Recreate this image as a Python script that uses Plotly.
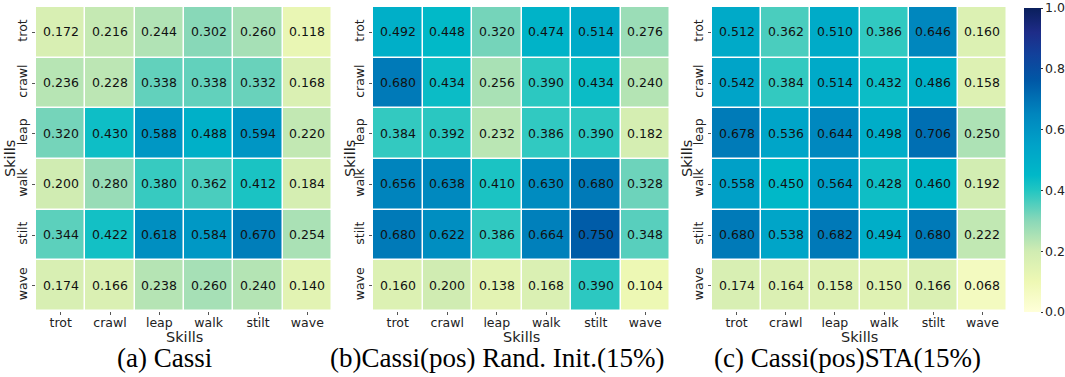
import plotly.graph_objects as go

skills = ["trot", "crawl", "leap", "walk", "stilt", "wave"]

cassi = [
    [0.172, 0.216, 0.244, 0.302, 0.260, 0.118],
    [0.236, 0.228, 0.338, 0.338, 0.332, 0.168],
    [0.320, 0.430, 0.588, 0.488, 0.594, 0.220],
    [0.200, 0.280, 0.380, 0.362, 0.412, 0.184],
    [0.344, 0.422, 0.618, 0.584, 0.670, 0.254],
    [0.174, 0.166, 0.238, 0.260, 0.240, 0.140],
]
rand_init = [
    [0.492, 0.448, 0.320, 0.474, 0.514, 0.276],
    [0.680, 0.434, 0.256, 0.390, 0.434, 0.240],
    [0.384, 0.392, 0.232, 0.386, 0.390, 0.182],
    [0.656, 0.638, 0.410, 0.630, 0.680, 0.328],
    [0.680, 0.622, 0.386, 0.664, 0.750, 0.348],
    [0.160, 0.200, 0.138, 0.168, 0.390, 0.104],
]
sta = [
    [0.512, 0.362, 0.510, 0.386, 0.646, 0.160],
    [0.542, 0.384, 0.514, 0.432, 0.486, 0.158],
    [0.678, 0.536, 0.644, 0.498, 0.706, 0.250],
    [0.558, 0.450, 0.564, 0.428, 0.460, 0.192],
    [0.680, 0.538, 0.682, 0.494, 0.680, 0.222],
    [0.174, 0.164, 0.158, 0.150, 0.166, 0.068],
]
captions = ["(a) Cassi", "(b)Cassi(pos) Rand. Init.(15%)", "(c) Cassi(pos)STA(15%)"]
axis_title = "Skills"
cbar_ticks = [0.0, 0.2, 0.4, 0.6, 0.8, 1.0]

colorscale = [
    [0.0, "#ffffd9"], [0.1, "#eef8b4"], [0.2, "#d0ecb2"], [0.3, "#8ad8b8"],
    [0.4, "#22c6c2"], [0.45, "#00b8c8"], [0.55, "#00a2c8"], [0.65, "#0086be"],
    [0.7, "#0072b4"], [0.76, "#0058a6"], [0.85, "#12409a"], [0.92, "#1e2c88"],
    [1.0, "#0a1f5c"],
]

W, H = 1065, 377
xdoms = [(36, 332), (373, 670), (712, 1007)]
ytop, ybot = 7, 311
cap_x = [164, 497, 847]
ytitle_x = [10, 350, 687]

fig = go.Figure()
datas = [cassi, rand_init, sta]
sans = "DejaVu Sans"
for i, d in enumerate(datas):
    ax = "" if i == 0 else str(i + 1)
    fig.add_trace(go.Heatmap(
        z=d, x=skills, y=skills,
        xaxis="x" + ax, yaxis="y" + ax,
        colorscale=colorscale, zmin=0, zmax=1,
        xgap=1.5, ygap=1.5,
        texttemplate="%{z:.3f}",
        textfont=dict(family=sans, size=12.5, color="#111111"),
        showscale=(i == 2),
        colorbar=dict(
            x=1024 / W, xanchor="left", xpad=0, ypad=0,
            y=1 - 8 / H, yanchor="top",
            len=304 / H, lenmode="fraction", thickness=17, thicknessmode="pixels",
            outlinewidth=0, ticks="outside", ticklen=2, tickcolor="#333",
            tickvals=cbar_ticks, tickformat=".1f",
            tickfont=dict(family=sans, size=12.5, color="#222"),
        ),
    ))
    x0, x1 = xdoms[i]
    fig.layout["xaxis" + ax] = dict(
        domain=[x0 / W, x1 / W], anchor="y" + ax,
        tickfont=dict(family=sans, size=12.5, color="#222"),
        ticks="outside", ticklen=3, tickcolor="#555", ticklabelstandoff=-3,
        showgrid=False, zeroline=False, showline=False,
    )
    fig.layout["yaxis" + ax] = dict(
        domain=[1 - ybot / H, 1 - ytop / H], anchor="x" + ax,
        autorange="reversed", tickangle=-90,
        tickfont=dict(family=sans, size=12.5, color="#222"),
        ticks="outside", ticklen=3, tickcolor="#555",
        showgrid=False, zeroline=False, showline=False,
    )
    fig.add_annotation(
        text=axis_title, x=(x0 + x1) / 2 / W, y=1 - 337 / H, xref="paper", yref="paper",
        xanchor="center", yanchor="middle", showarrow=False,
        font=dict(family=sans, size=14.5, color="#222"),
    )
    fig.add_annotation(
        text=axis_title, x=ytitle_x[i] / W, y=1 - (ytop + ybot) / 2 / H,
        xref="paper", yref="paper", textangle=-90,
        xanchor="center", yanchor="middle", showarrow=False,
        font=dict(family=sans, size=14.5, color="#222"),
    )
    fig.add_annotation(
        text=captions[i], x=cap_x[i] / W, y=1 - 358 / H, xref="paper", yref="paper",
        xanchor="center", yanchor="middle", showarrow=False,
        font=dict(family="Liberation Serif", size=27, color="#000"),
    )

fig.update_layout(
    width=W, height=H, margin=dict(l=0, r=0, t=0, b=0, pad=0, autoexpand=False),
    paper_bgcolor="white", plot_bgcolor="white", showlegend=False,
)
fig.write_html(
    "out.html",
    config={"displayModeBar": False},
    post_script="document.body.style.margin='0';document.body.style.overflow='hidden';",
)
